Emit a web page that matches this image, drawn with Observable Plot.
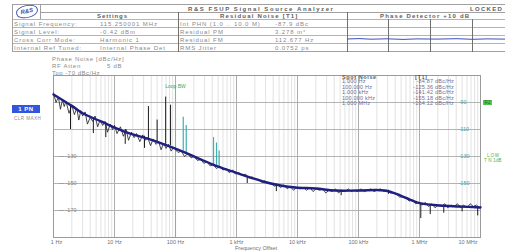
<!DOCTYPE html>
<html><head><meta charset="utf-8">
<script src="https://cdn.jsdelivr.net/npm/d3@7"></script>
<script src="https://cdn.jsdelivr.net/npm/@observablehq/plot@0.6"></script>
<style>
body{margin:0;background:#fff;font-family:"Liberation Sans",Arial,sans-serif;}
#wrap{position:relative;width:505px;height:251px;overflow:hidden;background:#fff;}
.t{position:absolute;white-space:nowrap;font-size:6px;color:#8a8a8a;line-height:6px;letter-spacing:0.9px;}
.b{font-weight:bold;color:#606060;letter-spacing:1.2px;}
.ln{position:absolute;background:#a0a0a0;}
</style></head><body>
<div id="wrap"><div id="hdr" style="position:relative;width:505px;height:52px"></div><div id="chart"></div></div>
<script>
// ---------- data ----------
const settingsLabels = ["Signal Frequency:", "Signal Level:", "Cross Corr Mode:", "Internal Ref Tuned:"];
const settingsValues = ["115.250001 MHz", "-0.42 dBm", "Harmonic 1", "Internal Phase Det"];
const residualLabels = ["Int PHN (1.0 .. 10.0 M)", "Residual PM", "Residual FM", "RMS Jitter"];
const residualValues = ["-87.9 dBc", "3.278 m°", "112.677 Hz", "0.0752 ps"];

const xTicks = [1, 10, 100, 1e3, 1e4, 1e5, 1e6, 1e7];
const xTickLabels = ["1 Hz", "10 Hz", "100 Hz", "1 kHz", "10 kHz", "100 kHz", "1 MHz", "10 MHz"];
const yGrid = [-70, -90, -110, -130, -150, -170, -190];
const leftYTicks = [-130, -150, -170];
const rightYTicks = [-90, -110, -130, -150];

const spotOffsets = ["1.000 Hz", "100.000 Hz", "1.000 kHz", "100.000 kHz", "1.000 MHz"];
const spotValues = ["-84.87 dBc/Hz", "-125.36 dBc/Hz", "-141.42 dBc/Hz", "-155.18 dBc/Hz", "-164.12 dBc/Hz"];

const smoothFreq = [1, 2, 3, 6, 11, 18, 35, 74, 120, 240, 450, 860, 1700, 2700, 5300, 9300, 20000, 41000, 100000, 270000, 490000, 930000, 2.2e6, 4.6e6, 1e7];
const smoothDb = [-84, -92.5, -98, -104, -109.3, -113, -116.7, -121.9, -125.6, -131.5, -136.7, -141.1, -145.6, -148.5, -151.5, -153, -153.7, -155.2, -155.2, -155.2, -158.9, -164.1, -166.3, -167, -167.8];

const rawTrace = [
[1.0,-83],[1.1,-90],[1.2,-86],[1.3,-95],[1.4,-88],[1.5,-93],[1.6,-89],[1.8,-98],[2.0,-92],[2.2,-99],[2.4,-94],[2.6,-103],[2.8,-96],[3.0,-100],[3.3,-97],[3.6,-106],[4.0,-101],[4.4,-104],[4.8,-100],[5.3,-108],[5.8,-103],[6.4,-107],[7.0,-104],[7.7,-112],[8.5,-106],[9.3,-110],[10,-107],
[11,-113],[12.5,-108],[14,-115],[15.5,-110],[17,-118],[19,-112],[21,-116],[23,-113],[26,-119],[29,-114],[32,-118],[35,-116],[39,-122],[43,-117],[48,-121],[53,-119],[58,-125],[64,-120],[70,-124],[77,-121],[85,-126],[93,-123],[100,-125],
[110,-127],[125,-126],[140,-130],[160,-128],[180,-131],[200,-130],[230,-133],[260,-132],[290,-135],[330,-134],[370,-137],[420,-136],[470,-139],[530,-137],[600,-140],[680,-139],[760,-142],[860,-140],[960,-143],
[1100,-142],[1250,-144],[1400,-143],[1600,-146],[1800,-145],[2000,-147],[2300,-147],[2600,-149],[2900,-148],[3300,-150],[3700,-150],[4200,-152],[4700,-151],[5300,-153],[6000,-151],[6800,-154],[7600,-152],[8600,-155],[9600,-153],
[11000,-154],[12500,-153],[14000,-155],[16000,-153],[18000,-156],[20000,-154],[23000,-155],[26000,-154],[29000,-157],[33000,-155],[37000,-156],[42000,-154],[47000,-157],[53000,-155],[60000,-156],[68000,-154],[76000,-156],[86000,-155],[96000,-156],
[110000,-154],[125000,-156],[140000,-155],[160000,-154],[180000,-156],[200000,-155],[230000,-154],[260000,-156],[290000,-155],[330000,-157],[370000,-157],[420000,-158],[470000,-160],[530000,-160],[600000,-161],[680000,-163],[760000,-162],[860000,-165],[960000,-164],
[1.1e6,-166],[1.25e6,-164],[1.4e6,-167],[1.6e6,-165],[1.8e6,-168],[2.0e6,-166],[2.3e6,-167],[2.6e6,-165],[2.9e6,-168],[3.3e6,-166],[3.7e6,-167],[4.2e6,-165],[4.7e6,-168],[5.3e6,-166],[6.0e6,-168],[6.8e6,-165],[7.6e6,-167],[8.6e6,-166],[9.6e6,-168],[1e7,-167]
];
const downSpikes = [[1.9,-92,-110],[4.5,-102,-113],[7.2,-105,-116],[15,-110,-121],[31,-115,-124],[1500,-145,-150],[4500,-151,-156],[52000,-155,-159],[310000,-155,-158],[1.05e6,-165,-176],[1.5e6,-166,-173],[2.5e6,-166,-172],[5e6,-167,-171],[9e6,-167,-174]];
const upSpikes = [[36,-117,-93],[50,-119,-103],[69,-121,-86],[83,-122,-92]];
const tealSpikes = [[134,-126,-101],[150,-127,-107],[420,-136,-116],[470,-137,-120],[520,-137,-126]];
const markers = [{f: 100, top: -78, label: "Loop BW"}];

// ---------- header (HTML) ----------
const hdr = document.getElementById("hdr");
const wrap = document.getElementById("wrap");
function txt(parent, s, x, y, cls = "", extra = "") {
  const d = document.createElement("div");
  d.className = "t " + cls; d.textContent = s;
  d.style.left = x + "px"; d.style.top = y + "px";
  if (extra) d.style.cssText += extra;
  parent.appendChild(d); return d;
}
function box(parent, x, y, w, h, bg) {
  const d = document.createElement("div");
  d.className = "ln";
  d.style.left = x + "px"; d.style.top = y + "px"; d.style.width = w + "px"; d.style.height = h + "px";
  if (bg) d.style.background = bg;
  parent.appendChild(d); return d;
}
box(hdr, 12, 4, 493, 1);
box(hdr, 40, 12, 465, 1);
[19, 27, 35, 43].forEach(y => box(hdr, 12, y, 493, 1, "#b4b4b4"));
box(hdr, 12, 51, 493, 1);
box(hdr, 12, 4, 1, 48);
box(hdr, 40, 4, 1, 15);
box(hdr, 178, 12, 1, 40, "#707070");
box(hdr, 347, 12, 1, 40, "#707070");
[388, 430, 472].forEach(x => box(hdr, x, 19, 1, 33, "#707070"));
const logo = document.createElement("div");
logo.style.cssText = "position:absolute;left:16px;top:5px;width:20px;height:11px;border:1px solid #4a5aa8;border-radius:50%/45%;transform:rotate(-12deg);font:bold italic 6px 'Liberation Sans',Arial;color:#3b4ea8;text-align:center;line-height:11px;";
logo.textContent = "R&S";
hdr.appendChild(logo);
txt(hdr, "R&S FSUP Signal Source Analyzer", 188, 5.5, "b", "letter-spacing:1.55px;");
txt(hdr, "LOCKED", 470, 5.5, "b", "letter-spacing:1.3px;");
txt(hdr, "Settings", 97, 13, "b", "letter-spacing:0.9px;");
txt(hdr, "Residual Noise [T1]", 220, 13, "b");
txt(hdr, "Phase Detector +10 dB", 380, 13, "b");
settingsLabels.forEach((s, i) => txt(hdr, s, 14, 20.5 + i * 8));
settingsValues.forEach((s, i) => txt(hdr, s, 100, 20.5 + i * 8));
residualLabels.forEach((s, i) => txt(hdr, s, 180, 20.5 + i * 8));
residualValues.forEach((s, i) => txt(hdr, s, 275, 20.5 + i * 8));
const ns = "http://www.w3.org/2000/svg";
const mini = document.createElementNS(ns, "svg");
mini.setAttribute("width", 158); mini.setAttribute("height", 8);
mini.style.cssText = "position:absolute;left:347px;top:35px;";
const pl = document.createElementNS(ns, "polyline");
pl.setAttribute("points", "0,4 12,3.6 24,4.2 40,3.8 56,4.4 70,3.9 90,4.1 110,3.7 125,4.3 140,3.9 158,4.1");
pl.setAttribute("fill", "none"); pl.setAttribute("stroke", "#3b4fc0"); pl.setAttribute("stroke-width", "1");
mini.appendChild(pl); hdr.appendChild(mini);

// ---------- chart overlays (HTML) ----------
txt(wrap, "Phase Noise [dBc/Hz]", 52, 55.5, "", "letter-spacing:0.7px;");
txt(wrap, "RF Atten", 52, 62.5, "", "letter-spacing:0.7px;");
txt(wrap, "5 dB", 107, 62.5, "", "letter-spacing:0.7px;");
txt(wrap, "Top -70 dBc/Hz", 52, 69.5, "", "letter-spacing:0.5px;");
txt(wrap, "1 PN", 12, 105, "", "width:28px;height:8px;line-height:8px;background:#3355dd;color:#fff;font-weight:bold;text-align:center;letter-spacing:0.5px;");
txt(wrap, "CLR MAXH", 14, 115.5, "", "font-size:4.5px;letter-spacing:0.5px;");
txt(wrap, "Spot Noise", 342, 73.5, "b", "font-size:5.5px;letter-spacing:0.6px;");
txt(wrap, "[T1]", 415, 73.5, "b", "font-size:5.5px;letter-spacing:0.6px;");
spotOffsets.forEach((s, i) => txt(wrap, s, 342, 78 + i * 5.6, "", "font-size:5.5px;letter-spacing:0.2px;color:#6d6d95;"));
spotValues.forEach((s, i) => txt(wrap, s, 396, 78 + i * 5.6, "", "font-size:5.5px;letter-spacing:0.2px;color:#6d6d95;width:58px;text-align:right;"));
txt(wrap, "R2", 483, 99.5, "", "background:#55c455;color:#1e6b1e;font-size:4.5px;line-height:5px;padding:0 1.5px;letter-spacing:0.3px;");
txt(wrap, "LOW", 487, 152.5, "", "color:#4cb34c;font-size:4.5px;line-height:5px;");
txt(wrap, "T N 1dB", 484, 157.5, "", "color:#4cb34c;font-size:4.5px;line-height:5px;letter-spacing:0.2px;");

// ---------- plot ----------
const minorGrid = [], majorGrid = xTicks;
for (let n = 0; n < 7; n++) for (let k = 2; k <= 9; k++) minorGrid.push(k * Math.pow(10, n));
const smooth = smoothFreq.map((f, i) => ({f, db: smoothDb[i]}));
const raw = rawTrace.map(([f, db]) => ({f, db}));
const toSpike = ([f, a, b]) => ({f, a, b});
const yBottom = yGrid[yGrid.length - 1];
const fs = 5.5;

const chart = Plot.plot({
  width: 505, height: 199,
  marginTop: 23, marginBottom: 14, marginLeft: 53, marginRight: 25,
  x: {type: "log", domain: [1, 1e7], axis: null},
  y: {domain: [yBottom, yGrid[0]], axis: null},
  style: {fontFamily: "Liberation Sans, Arial, sans-serif", background: "transparent", overflow: "visible"},
  marks: [
    Plot.ruleX(minorGrid, {stroke: "#d6d6d6", strokeWidth: 0.7}),
    Plot.ruleX(majorGrid, {stroke: "#a4a4a4", strokeWidth: 0.9}),
    Plot.ruleY(yGrid, {stroke: "#acacac", strokeWidth: 0.9}),
    Plot.frame({stroke: "#9a9a9a"}),
    Plot.text(leftYTicks, {y: d => d, text: d => "— " + d, frameAnchor: "left", dx: 5, textAnchor: "start", fontSize: fs, fill: "#808080"}),
    Plot.text(rightYTicks, {y: d => d, text: d => String(d), frameAnchor: "right", dx: -22, textAnchor: "start", fontSize: fs, fill: "#45a5ad"}),
    Plot.ruleX(markers, {x: "f", y1: "top", y2: yBottom, stroke: "#66cc66", strokeWidth: 1.1}),
    Plot.text(markers, {x: "f", text: "label", frameAnchor: "top", dy: 9, fontSize: 5, fill: "#44aa44"}),
    Plot.ruleX(tealSpikes.map(toSpike), {x: "f", y1: "a", y2: "b", stroke: "#3fb0b0", strokeWidth: 1.2}),
    Plot.ruleX(upSpikes.map(toSpike), {x: "f", y1: "a", y2: "b", stroke: "#1a1a1a", strokeWidth: 1}),
    Plot.ruleX(downSpikes.map(toSpike), {x: "f", y1: "a", y2: "b", stroke: "#1a1a1a", strokeWidth: 1}),
    Plot.line(raw, {x: "f", y: "db", stroke: "#1a1a1a", strokeWidth: 0.8}),
    Plot.line(smooth, {x: "f", y: "db", stroke: "#1f1f80", strokeWidth: 2.4, curve: "catmull-rom"}),
    Plot.text(xTicks.slice(0, 1), {x: d => d, text: () => xTickLabels[0], frameAnchor: "bottom", dy: 6, dx: 3, fontSize: fs, fill: "#707070"}),
    Plot.text(xTicks.slice(1, -1), {x: d => d, text: (d, i) => xTickLabels[i + 1], frameAnchor: "bottom", dy: 6, fontSize: fs, fill: "#707070"}),
    Plot.text(xTicks.slice(-1), {x: d => d, text: () => xTickLabels[xTickLabels.length - 1], frameAnchor: "bottom", dy: 6, dx: -3, textAnchor: "end", fontSize: fs, fill: "#707070"}),
    Plot.text(["Frequency Offset"], {frameAnchor: "bottom", dy: 12, dx: -11, fontSize: fs, fill: "#707070"})
  ]
});
document.getElementById("chart").appendChild(chart);
</script>
</body></html>
